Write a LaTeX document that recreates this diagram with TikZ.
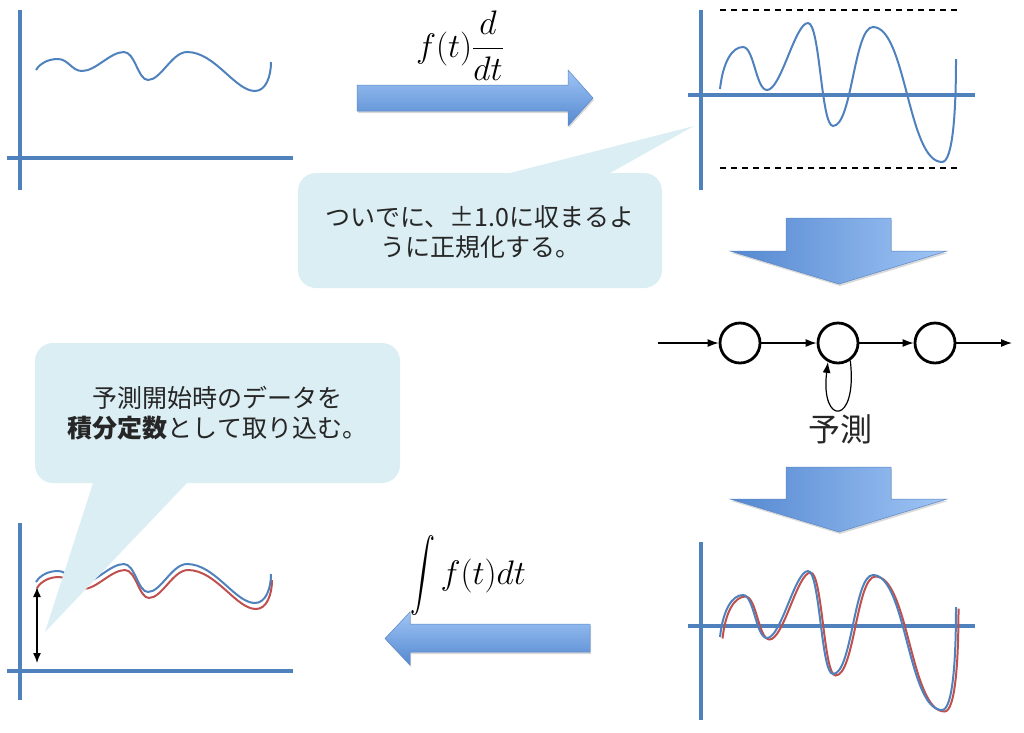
\RequirePackage{fix-cm}
\documentclass[tikz,border=0pt]{standalone}
\usepackage{amsmath}
\usepackage{graphicx}
\usepackage{fontspec}
\newfontfamily\jp{Noto Sans CJK JP}
\usetikzlibrary{arrows.meta,shadows}
\definecolor{axisblue}{RGB}{79,129,189}
\definecolor{curvered}{RGB}{192,80,77}
\definecolor{calloutfill}{RGB}{219,238,244}
\definecolor{arrowdark}{RGB}{84,136,208}
\definecolor{arrowlight}{RGB}{160,197,245}
\definecolor{arrowedge}{RGB}{90,135,200}
\definecolor{txt}{RGB}{38,38,38}
\newcommand\waveA{(36,70) .. controls (41,62) and (50,59) .. (58,59)
  .. controls (68,59) and (72,71) .. (82,71)
  .. controls (96,71) and (110,52) .. (124,52)
  .. controls (135,52) and (138,80) .. (148,80)
  .. controls (161,80) and (172,52) .. (187,52)
  .. controls (215,52) and (235,91) .. (255,91)
  .. controls (266,91) and (271,76) .. (271,62)}
\newcommand\waveB{(720,89) .. controls (723,62) and (732,47) .. (743,47)
  .. controls (754,47) and (756,90) .. (767,90)
  .. controls (781,90) and (795,23) .. (808,23)
  .. controls (820,23) and (821,126) .. (833,126)
  .. controls (852,126) and (854,27) .. (873,27)
  .. controls (906,27) and (908,162) .. (942,162)
  .. controls (953,162) and (956,110) .. (956,59)}
\begin{document}
\begin{tikzpicture}[x=1pt,y=-1pt,
  axisline/.style={line width=4pt, color=axisblue},
  bluewave/.style={line width=2pt, color=axisblue},
  redwave/.style={line width=2pt, color=curvered},
  dashline/.style={line width=1.4pt, black, dash pattern=on 6pt off 5pt},
  blockH/.style={top color=arrowlight, bottom color=arrowdark, draw=arrowedge, line width=0.5pt,
     drop shadow={shadow xshift=1pt, shadow yshift=-2pt, opacity=0.3}},
  blockV/.style={left color=arrowdark, right color=arrowlight, draw=arrowedge, line width=0.5pt,
     drop shadow={shadow xshift=1pt, shadow yshift=-2pt, opacity=0.3}},
  callout/.style={fill=calloutfill},
  jptext/.style={font={\jp\fontsize{25pt}{30pt}\selectfont}, align=center, text=txt, inner sep=0pt},
  mathlbl/.style={font={\fontsize{34pt}{40pt}\selectfont}, text=black, inner sep=0pt},
  circ/.style={circle, draw=black, line width=2.8pt, minimum size=40pt, inner sep=0pt},
  netarrow/.style={line width=1.2pt, black, -{Latex[length=11pt,width=8pt]}},
  dblarrow/.style={line width=1.4pt, black, {Latex[length=10pt,width=8pt]}-{Latex[length=10pt,width=8pt]}}
]
\useasboundingbox (0,0) rectangle (1024,732);

% ---------- Panel 1 (top left) ----------
\draw[axisline] (20,10) -- (20,190);
\draw[axisline] (7,158) -- (293,158);
\draw[bluewave] \waveA;

% ---------- Panel 2 (top right) ----------
\draw[dashline] (720,10) -- (957,10);
\draw[dashline] (720,168) -- (957,168);
\draw[axisline] (701,10) -- (701,190);
\draw[axisline] (688,95) -- (975,95);
\draw[bluewave] \waveB;

% ---------- Panel 3 (bottom right) ----------
\draw[axisline] (701,542) -- (701,720);
\draw[axisline] (688,626) -- (975,626);
\begin{scope}[shift={(2.5,549.5)}]
  \draw[redwave] \waveB;
\end{scope}
\begin{scope}[shift={(0,548)}]
  \draw[bluewave] \waveB;
\end{scope}

% ---------- Panel 4 (bottom left) ----------
\draw[axisline] (20,523) -- (20,700);
\draw[axisline] (7,671) -- (293,671);
\begin{scope}[shift={(1,518)}]
  \draw[redwave] \waveA;
\end{scope}
\begin{scope}[shift={(0,512)}]
  \draw[bluewave] \waveA;
\end{scope}

% ---------- Block arrows ----------
\path[blockH] (357,85) -- (568,85) -- (568,70) -- (593,98) -- (568,126) -- (568,111) -- (357,111) -- cycle;
\path[blockH] (590,624) -- (410,624) -- (410,612) -- (385,638.5) -- (410,665) -- (410,652) -- (590,652) -- cycle;
\path[blockV] (786,218) -- (891,218) -- (891,251) -- (947,251) -- (839,284) -- (730,251) -- (786,251) -- cycle;
\path[blockV] (786,467) -- (891,467) -- (891,499) -- (947,499) -- (839,532) -- (730,499) -- (786,499) -- cycle;

% ---------- Math labels ----------
\node[mathlbl, anchor=base] (dlabel) at (460,57) {$\displaystyle f(t)\frac{d}{dt}$};
\node[mathlbl, anchor=base] (ilabel) at (468,584)
  {$\displaystyle\vcenter{\hbox{\scalebox{1}[1.45]{$\displaystyle\int$}}}\, f(t)dt$};

% ---------- Callouts ----------
\fill[callout, rounded corners=18pt] (298,173) rectangle (662,288)
  [sharp corners] (510,173) -- (694,126) -- (610,173) -- cycle;
\node[jptext] (note1) at (480,232.5) {ついでに、±1.0に収まるよ\\うに正規化する。};

\fill[callout, rounded corners=18pt] (35,343) rectangle (400,483)
  [sharp corners] (93,483) -- (45,632) -- (187,483) -- cycle;
\node[jptext] (note2) at (217.5,413) {予測開始時のデータを\\\textbf{積分定数}として取り込む。};

% ---------- Double arrow (integration constant) ----------
\coordinate (ctop) at (37,587);
\coordinate (cbot) at (37,663);
\draw[dblarrow] (ctop) -- (cbot);

% ---------- Network ----------
\node[circ] (c1) at (740,343) {};
\node[circ] (c2) at (838,343) {};
\node[circ] (c3) at (935,343) {};
\coordinate (nin) at (658,343);
\coordinate (nout) at (1012,343);
\draw[netarrow] (nin) -- (c1);
\draw[netarrow] (c1) -- (c2);
\draw[netarrow] (c2) -- (c3);
\draw[netarrow] (c3) -- (nout);
\draw[netarrow] (c2.-55) .. controls (858,426) and (820,426) .. (c2.-118);
\node[font={\jp\fontsize{32pt}{36pt}\selectfont}, text=txt, inner sep=0pt] (pred) at (840,429) {予測};
\end{tikzpicture}
\end{document}
